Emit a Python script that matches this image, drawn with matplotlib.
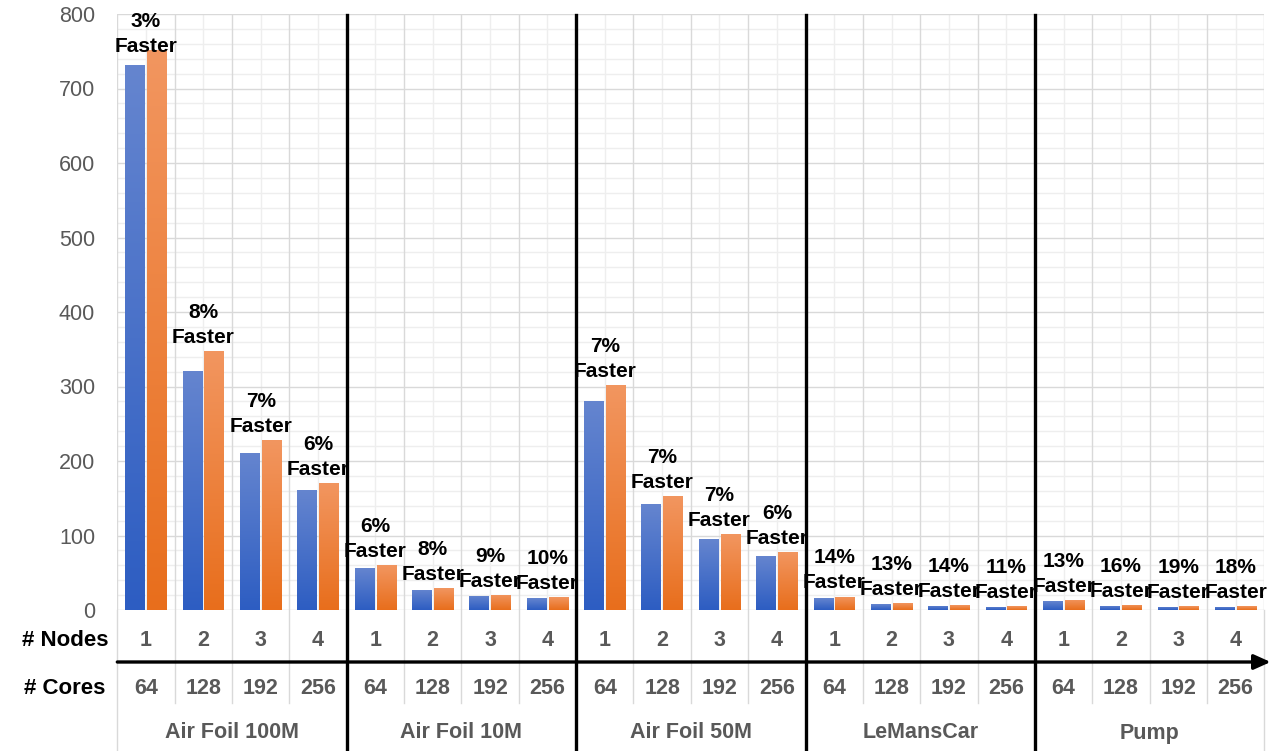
import numpy as np
import matplotlib
matplotlib.use("Agg")
import matplotlib.pyplot as plt
from matplotlib.colors import LinearSegmentedColormap
from matplotlib.transforms import blended_transform_factory

# ---- data -------------------------------------------------------------
groups = ["Air Foil 100M", "Air Foil 10M", "Air Foil 50M", "LeMansCar", "Pump"]
nodes = ["1", "2", "3", "4"]
cores = ["64", "128", "192", "256"]

series_a = [731, 321, 211, 161,
            56, 27, 19, 15.5,
            281, 142, 95, 72,
            16, 8, 5.5, 4.5,
            12, 6, 4.5, 4.3]
series_b = [752, 348, 228, 170,
            60, 29.5, 20.5, 17,
            302, 153, 102, 77.5,
            18, 9, 6.2, 5,
            13.5, 7, 5.3, 5]
speedup_pct = [3, 8, 7, 6,
               6, 8, 9, 10,
               7, 7, 7, 6,
               14, 13, 14, 11,
               13, 16, 19, 18]

# ---- figure -----------------------------------------------------------
W, H = 1276, 751
fig = plt.figure(figsize=(W / 100, H / 100), dpi=100)
ax_left, ax_right = 117.3 / W, 1264.3 / W
ax_bottom, ax_top = 1 - 610 / H, 1 - 14 / H
ax = fig.add_axes([ax_left, ax_bottom, ax_right - ax_left, ax_top - ax_bottom])

n = len(series_a)
x = np.arange(n)
bw = 0.34
off = 0.19

ax.set_xlim(-0.5, n - 0.5)
ax.set_ylim(0, 800)

# grid
for yv in range(0, 801, 20):
    major = yv % 100 == 0
    ax.axhline(yv, color="#D9D9D9" if major else "#EEEEEE",
               lw=1.0, zorder=0.5 if major else 0.4)
for k in range(n):
    ax.axvline(k, color="#EEEEEE", lw=1.0, zorder=0.4)
for k in range(n + 1):
    ax.axvline(k - 0.5, color="#D9D9D9", lw=1.0, zorder=0.5)

bars_a = ax.bar(x - off, series_a, bw, color="#4472C4", zorder=2)
bars_b = ax.bar(x + off, series_b, bw, color="#ED7D31", zorder=2)


def shade(bars, c_bottom, c_top):
    cmap = LinearSegmentedColormap.from_list("g", [c_bottom, c_top])
    grad = np.linspace(0, 1, 256).reshape(-1, 1)
    for p in bars:
        x0, y0 = p.get_x(), p.get_y()
        w, h = p.get_width(), p.get_height()
        im = ax.imshow(grad, extent=[x0, x0 + w, y0, y0 + h], origin="lower",
                       cmap=cmap, aspect="auto", zorder=2.1, interpolation="bilinear")
        im.set_clip_path(p)


shade(bars_a, "#2D5DC2", "#6585CF")
shade(bars_b, "#E86E1C", "#F29660")
ax.set_xlim(-0.5, n - 0.5)
ax.set_ylim(0, 800)

# labels above each pair
labels = []
for i in range(n):
    top = max(series_a[i], series_b[i])
    t = ax.annotate(f"{speedup_pct[i]}%\nFaster", xy=(x[i], top),
                    xytext=(0, 3), textcoords="offset points",
                    ha="center", va="bottom", fontsize=15, fontweight="bold",
                    family="Liberation Sans", linespacing=1.4, zorder=5,
                    annotation_clip=False)
    labels.append(t)

# axes styling
for s in ax.spines.values():
    s.set_visible(False)
ax.set_yticks(range(0, 801, 100))
ax.set_yticklabels([str(v) for v in range(0, 801, 100)],
                   fontsize=15.5, color="#595959", family="Liberation Sans")
ax.tick_params(axis="y", length=0, pad=16)
ax.set_xticks([])

# keep data labels inside the plot area
fig.canvas.draw()
renderer = fig.canvas.get_renderer()
ax_box = ax.get_window_extent(renderer)
for t in labels:
    bb = t.get_window_extent(renderer)
    excess = bb.y1 - (ax_box.y1 + 2)
    if excess > 0:
        ox, oy = t.xyann
        t.xyann = (ox, oy - excess * 72 / fig.dpi)

# ---- category table below the plot -------------------------------------
trans = blended_transform_factory(ax.transData, ax.transAxes)
y_nodes = (610 - 640) / 596
y_arrow = (610 - 662) / 596
y_cores = (610 - 688) / 596
y_group = (610 - 733) / 596
y_inner = (610 - 703) / 596
y_end = (610 - 751) / 596

txt_kw = dict(ha="center", va="center", fontsize=15.5, fontweight="bold",
              color="#595959", family="Liberation Sans", transform=trans)
for i in range(n):
    ax.text(x[i], y_nodes, nodes[i % 4], **txt_kw)
    ax.text(x[i], y_cores, cores[i % 4], **txt_kw)
for g, name in enumerate(groups):
    ax.text(g * 4 + 1.5, y_group, name, **txt_kw)

for k in range(n + 1):
    xb = k - 0.5
    bottom = y_end if k % 4 == 0 else y_inner
    ax.plot([xb, xb], [0, bottom], color="#D9D9D9", lw=1.0,
            transform=trans, clip_on=False, zorder=0.5)

# group separators
for g in range(1, len(groups)):
    xb = g * 4 - 0.5
    ax.plot([xb, xb], [y_end, 0.998], color="black", lw=2.4,
            transform=trans, clip_on=False, zorder=6)

# direction arrow
ax.annotate("", xy=(1.0055, y_arrow), xytext=(0.0, y_arrow),
            xycoords="axes fraction", textcoords="axes fraction",
            arrowprops=dict(arrowstyle="-|>,head_length=1.0,head_width=0.45",
                            color="black", lw=2.4, shrinkA=0, shrinkB=0),
            annotation_clip=False, zorder=6)

fig.text(65 / W, 1 - 640 / H, "# Nodes", ha="center", va="center",
         fontsize=16, fontweight="bold", family="Liberation Sans")
fig.text(65 / W, 1 - 688 / H, "# Cores", ha="center", va="center",
         fontsize=16, fontweight="bold", family="Liberation Sans")

fig.savefig("out.png", dpi=100)
